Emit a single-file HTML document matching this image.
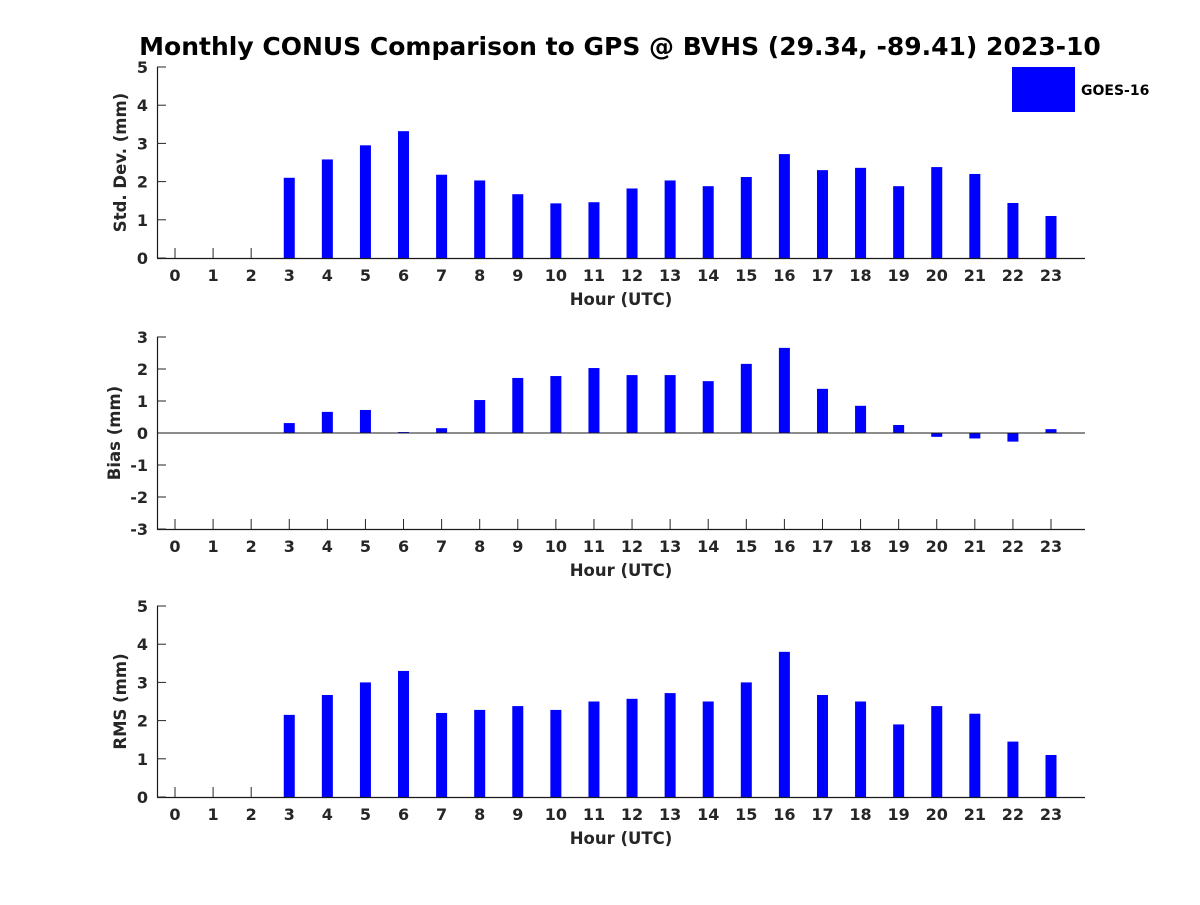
<!DOCTYPE html>
<html><head><meta charset="utf-8"><style>
body{margin:0;background:#fff}
svg text{font-family:"DejaVu Sans","Liberation Sans",sans-serif;font-weight:bold;fill:#262626}
</style></head><body>
<svg id="c" width="1200" height="900" xmlns="http://www.w3.org/2000/svg">
<text x="620" y="55" text-anchor="middle" font-size="25" style="fill:#000">Monthly CONUS Comparison to GPS @ BVHS (29.34, -89.41) 2023-10</text>
<rect x="1012" y="67" width="63" height="45" fill="#0000ff"/>
<text x="1081" y="95" font-size="14" style="fill:#000">GOES-16</text>
</svg>
<script>
const hours=[0,1,2,3,4,5,6,7,8,9,10,11,12,13,14,15,16,17,18,19,20,21,22,23];
const stdVals=[null,null,null,2.1,2.58,2.95,3.32,2.18,2.03,1.67,1.43,1.46,1.82,2.03,1.88,2.12,2.72,2.3,2.36,1.88,2.38,2.2,1.44,1.1];
const biasVals=[null,null,null,0.31,0.66,0.72,0.03,0.15,1.03,1.72,1.78,2.03,1.81,1.81,1.62,2.16,2.66,1.38,0.85,0.25,-0.12,-0.17,-0.27,0.12];
const rmsVals=[null,null,null,2.15,2.67,3.0,3.3,2.2,2.28,2.38,2.28,2.5,2.57,2.72,2.5,3.0,3.8,2.67,2.5,1.9,2.38,2.18,1.45,1.1];
const stdTicks=[0,1,2,3,4,5];
const biasTicks=[-3,-2,-1,0,1,2,3];
const rmsTicks=[0,1,2,3,4,5];
const NS="http://www.w3.org/2000/svg",svg=document.getElementById('c');
function mk(t,a,txt){const e=document.createElementNS(NS,t);for(const k in a)e.setAttribute(k,a[k]);if(txt!=null)e.textContent=txt;svg.appendChild(e);return e;}
const xS=h=>175+h*(1051-175)/23;
function panel(key,vals,ticks,ymin,ymax,top,bot,ylab,labX){
  const yS=v=>bot-(v-ymin)/(ymax-ymin)*(bot-top);
  const base=yS(Math.max(ymin,0));
  let e;
  hours.forEach((h,i)=>{
    const x=xS(h);
    e=mk('line',{x1:x,y1:bot,x2:x,y2:bot-10,stroke:'#262626'});
    
    e=mk('text',{x:x,y:bot+23,'text-anchor':'middle','font-size':16},String(h));
    
    const v=vals[i];
    if(v!=null){
      const y=yS(v);
      e=mk('rect',{x:x-5.5,y:Math.min(y,base),width:11,height:Math.abs(base-y),fill:'#0000ff'});
      
    }
  });
  e=mk('line',{x1:157.5,y1:top,x2:157.5,y2:bot,stroke:'#1a1a1a','stroke-width':1.2});
  
  e=mk('line',{x1:157,y1:bot+0.5,x2:1085,y2:bot+0.5,stroke:'#1a1a1a','stroke-width':1.2});
  
  ticks.forEach(t=>{
    const y=yS(t);
    e=mk('line',{x1:157,y1:y,x2:166,y2:y,stroke:'#262626'});
    
    e=mk('text',{x:148,y:y+6,'text-anchor':'end','font-size':16},String(t));
    
  });
  if(ymin<0){e=mk('line',{x1:157,y1:base,x2:1085,y2:base,stroke:'#1a1a1a'});
    }
  e=mk('text',{x:621,y:bot+47,'text-anchor':'middle','font-size':16.5},'Hour (UTC)');
  
  const cy=(top+bot)/2;
  e=mk('text',{x:0,y:0,'text-anchor':'middle','font-size':16.5,transform:`translate(${labX},${cy}) rotate(-90)`},ylab);
  
}
panel('std',stdVals,stdTicks,0,5,67,258,'Std. Dev. (mm)',126);
panel('bias',biasVals,biasTicks,-3,3,337,529,'Bias (mm)',120);
panel('rms',rmsVals,rmsTicks,0,5,606,797,'RMS (mm)',126);
</script>
</body></html>
